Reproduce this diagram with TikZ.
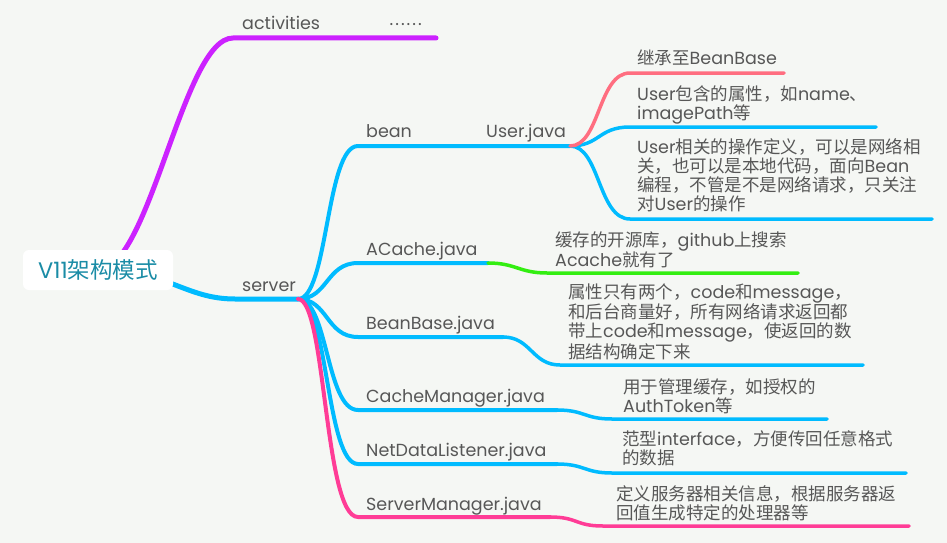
\documentclass[tikz,border=0pt]{standalone}
\usepackage{fontspec}
\setmainfont{Poppins}
\newfontfamily\cjkf{Noto Sans CJK SC}
\newcommand\zh[1]{{\cjkf #1}}
\definecolor{bgc}{HTML}{F5F7F4}
\definecolor{mpurple}{HTML}{CC22FF}
\definecolor{mblue}{HTML}{00BBFF}
\definecolor{mpink}{HTML}{FF3C96}
\definecolor{msalmon}{HTML}{FF6E80}
\definecolor{mgreen}{HTML}{33EE11}
\definecolor{txtgrey}{HTML}{575757}
\definecolor{mteal}{HTML}{1A8CA6}
\pgfdeclarelayer{back}
\pgfdeclarelayer{lines}
\pgfsetlayers{back,lines,main}
\begin{document}
\begin{tikzpicture}[x=1pt,y=-1pt,
  lbl/.style={anchor=base west, inner sep=0pt, text=txtgrey, font=\fontsize{17.5}{19.2}\selectfont},
  rootbox/.style={fill=white, rounded corners=6pt, minimum width=150pt, minimum height=40pt, inner sep=0pt, text=mteal, font=\fontsize{22.5}{25}\selectfont},
  brA/.style={line width=5pt, line cap=round},
  brB/.style={line width=4pt, line cap=round},
  brC/.style={line width=3.5pt, line cap=round}]
\begin{pgfonlayer}{back}
\fill[bgc] (0,0) rectangle (947,543);
\end{pgfonlayer}
\useasboundingbox (0,0) rectangle (947,543);

% root
\node[rootbox] (root) at (98,270) {V11\zh{架构模式}};

% junction coordinates
\coordinate (act) at (233,38);
\coordinate (acte) at (436,38);
\coordinate (srvh) at (235,299);
\coordinate (srv) at (298,299);
\coordinate (bean) at (358,146);
\coordinate (user) at (570,146);
\coordinate (u1) at (630,73);  \coordinate (u1e) at (784,73);
\coordinate (u2) at (630,127); \coordinate (u2e) at (876,127);
\coordinate (u3) at (630,219); \coordinate (u3e) at (932,219);
\coordinate (ac) at (358,263); \coordinate (acm) at (488,263);
\coordinate (acd) at (547,273); \coordinate (acde) at (798,273);
\coordinate (bb) at (358,337); \coordinate (bbm) at (503,337);
\coordinate (bbd) at (560,365); \coordinate (bbde) at (863,365);
\coordinate (cm) at (358,410); \coordinate (cmm) at (557,410);
\coordinate (cmd) at (612,419); \coordinate (cmde) at (827,419);
\coordinate (nd) at (358,464); \coordinate (ndm) at (557,464);
\coordinate (ndd) at (612,473); \coordinate (ndde) at (906,473);
\coordinate (sm) at (358,517); \coordinate (smm) at (550,517);
\coordinate (smd) at (603,526); \coordinate (smde) at (909,526);

\begin{pgfonlayer}{lines}
\draw[brA, mpurple] (root.center) .. controls +(52,0) and +(-50,0) .. (act) -- (acte);
\draw[brA, mblue] (root.center) .. controls +(70,0) and +(-50,0) .. (srvh) -- (srv);
% server children
\draw[brB, mblue] (srv) .. controls +(30,0) and +(-32,0) .. (bean) -- (user);
\draw[brB, mblue] (srv) .. controls +(30,0) and +(-32,0) .. (ac) -- (acm);
\draw[brB, mblue] (srv) .. controls +(30,0) and +(-32,0) .. (bb) -- (bbm);
\draw[brB, mblue] (srv) .. controls +(30,0) and +(-32,0) .. (cm) -- (cmm);
\draw[brB, mblue] (srv) .. controls +(30,0) and +(-32,0) .. (nd) -- (ndm);
\draw[brB, mpink] (srv) .. controls +(28,0) and +(-34,0) .. (sm) -- (smm);
% user children
\draw[brC, mblue] (user) .. controls +(30,0) and +(-32,0) .. (u2) -- (u2e);
\draw[brC, mblue] (user) .. controls +(30,0) and +(-32,0) .. (u3) -- (u3e);
\draw[brC, msalmon] (user) .. controls +(30,0) and +(-32,0) .. (u1) -- (u1e);
% leaves
\draw[brC, mgreen] (acm) .. controls +(28,0) and +(-28,0) .. (acd) -- (acde);
\draw[brC, mblue] (bbm) .. controls +(28,0) and +(-28,0) .. (bbd) -- (bbde);
\draw[brC, mblue] (cmm) .. controls +(28,0) and +(-28,0) .. (cmd) -- (cmde);
\draw[brC, mblue] (ndm) .. controls +(28,0) and +(-28,0) .. (ndd) -- (ndde);
\draw[brC, mpink] (smm) .. controls +(28,0) and +(-28,0) .. (smd) -- (smde);
\end{pgfonlayer}

% labels
\node[lbl] (tact) at (242,30) {activities};
\node[lbl] (tdots) at (389.5,25.8) {.\kern2pt.\kern2pt.\kern2pt.\kern2pt.\kern2pt.};
\node[lbl] (tsrv) at (242,291) {server};
\node[lbl] (tbean) at (366,137) {bean};
\node[lbl] (tuser) at (486,137) {User.java};
\node[lbl] (tac) at (366,255) {ACache.java};
\node[lbl] (tbb) at (366,329) {BeanBase.java};
\node[lbl] (tcm) at (366,402) {CacheManager.java};
\node[lbl] (tnd) at (366,456) {NetDataListener.java};
\node[lbl] (tsm) at (366,510) {ServerManager.java};

% descriptions
\node[lbl] (d1) at (637,65) {\zh{继承至}BeanBase};
\node[lbl] (d2) at (637,100) {\vtop{\hbox{User\zh{包含的属性，如}name\zh{、}}\hbox{imagePath\zh{等}}}};
\node[lbl] (d3) at (637,153) {\vtop{\hbox{User\zh{相关的操作定义，可以是网络相}}\hbox{\zh{关，也可以是本地代码，面向}Bean}\hbox{\zh{编程，不管是不是网络请求，只关注}}\hbox{\zh{对}User\zh{的操作}}}};
\node[lbl] (d4) at (555,246) {\vtop{\hbox{\zh{缓存的开源库，}github\zh{上搜索}}\hbox{Acache\zh{就有了}}}};
\node[lbl] (d5) at (568,298) {\vtop{\hbox{\zh{属性只有两个，}code\zh{和}message\zh{，}}\hbox{\zh{和后台商量好，所有网络请求返回都}}\hbox{\zh{带上}code\zh{和}message\zh{，使返回的数}}\hbox{\zh{据结构确定下来}}}};
\node[lbl] (d6) at (623,393) {\vtop{\hbox{\zh{用于管理缓存，如授权的}}\hbox{AuthToken\zh{等}}}};
\node[lbl] (d7) at (622,445) {\vtop{\hbox{\zh{范型}interface\zh{，方便传回任意格式}}\hbox{\zh{的数据}}}};
\node[lbl] (d8) at (616,500) {\vtop{\hbox{\zh{定义服务器相关信息，根据服务器返}}\hbox{\zh{回值生成特定的处理器等}}}};
\end{tikzpicture}
\end{document}
